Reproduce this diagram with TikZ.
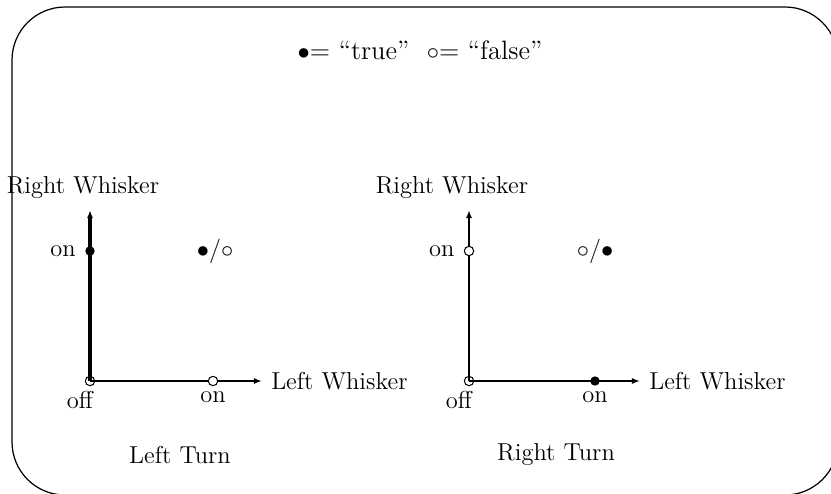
\documentclass[tikz,border=0pt]{standalone}
\usetikzlibrary{arrows.meta,positioning}
\tikzset{
  frame/.style={draw, line width=0.6pt, rounded corners=26pt},
  axis/.style={-{Latex[length=4pt,width=3pt]}, line width=1pt},
  truedot/.style={circle, fill, inner sep=0pt, minimum size=4.6pt},
  falsedot/.style={circle, draw, fill=white, line width=0.5pt, inner sep=0pt, minimum size=4.6pt},
  origdot/.style={circle, draw, line width=0.5pt, inner sep=0pt, minimum size=4.6pt}
}
\begin{document}
\begin{tikzpicture}[x=0.49pt,y=-0.49pt,font=\large]
\useasboundingbox (0,0) rectangle (831,493);
\begin{scope}
\clip (0,0) rectangle (831,493);
\draw[frame] (12,7) rectangle (838,495);
\end{scope}
\node[font=\fontsize{13}{15}\selectfont] (key) at (420,50) {$\bullet$= ``true''\ \ $\circ$= ``false''};

% left turn
\coordinate (lo) at (90,381);
\coordinate (ly) at (90,210);
\coordinate (lx) at (262,381);
\draw[axis, line width=1.5pt] (lo) -- (ly);
\draw[axis] (lo) -- (lx);
\node[origdot] (loff) at (lo) {};
\node[truedot] (lyon) at (90,251) {};
\node[falsedot] (lxon) at (213,381) {};
\node (lyname) at (83,188) {Right Whisker};
\node[right=1pt of lx] (lxname) {Left Whisker};
\node[left=1pt of lyon] (lyonl) {on};
\node[below=-1pt of lxon] (lxonl) {on};
\node[below=-1pt of loff, xshift=-5pt] (loffl) {off};
\node (lboth) at (215,251) {$\bullet/\circ$};
\node (lturn) at (180,455) {Left Turn};

% right turn
\coordinate (ro) at (469,381);
\coordinate (ry) at (469,210);
\coordinate (rx) at (640,381);
\draw[axis] (ro) -- (ry);
\draw[axis] (ro) -- (rx);
\node[origdot] (roff) at (ro) {};
\node[falsedot] (ryon) at (469,251) {};
\node[truedot] (rxon) at (595,381) {};
\node (ryname) at (452,188) {Right Whisker};
\node[right=1pt of rx] (rxname) {Left Whisker};
\node[left=1pt of ryon] (ryonl) {on};
\node[below=-1pt of rxon] (rxonl) {on};
\node[below=-1pt of roff, xshift=-5pt] (roffl) {off};
\node (rboth) at (595,251) {$\circ/\bullet$};
\node (rturn) at (556,455) {Right Turn};
\end{tikzpicture}
\end{document}
